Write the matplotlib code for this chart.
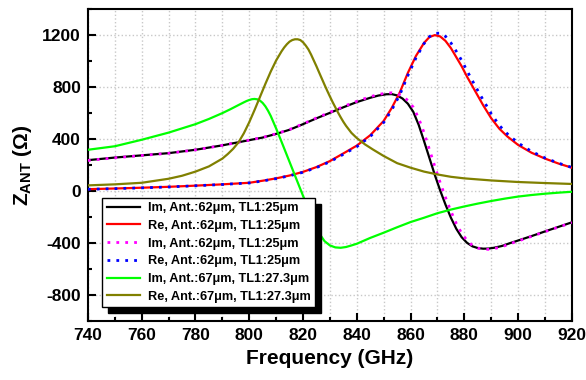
#!/usr/bin/env python3

import matplotlib
matplotlib.use('Agg')
import matplotlib.pyplot as plt
from matplotlib.patches import Rectangle
from matplotlib.ticker import MultipleLocator

# values (frequency in GHz, impedance in ohm)
f_62 = [740, 750, 760, 770, 780, 790, 800, 805, 810, 815, 820, 825, 830, 835,
        840, 845, 850, 853, 856, 859, 862, 865, 867, 869, 871, 873, 875, 877,
        879, 881, 884, 887, 890, 893, 896, 900, 905, 910, 915, 920]
re_62 = [15, 20, 26, 33, 42, 52, 64, 80, 98, 120, 148, 185, 231, 290,
         350, 430, 540, 640, 760, 910, 1040, 1140, 1185, 1200, 1190, 1155, 1100, 1030,
         960, 880, 770, 660, 560, 480, 420, 355, 295, 250, 212, 180]
re_62b = [14, 19, 25, 32, 41, 51, 63, 78, 96, 118, 145, 181, 226, 283,
          342, 420, 528, 625, 742, 890, 1025, 1135, 1188, 1214, 1215, 1190, 1140, 1075,
          1005, 925, 810, 700, 595, 505, 440, 370, 305, 255, 215, 182]

f_62i = [740, 750, 760, 770, 780, 790, 800, 805, 810, 815, 820, 825, 830, 835,
         840, 845, 848, 851, 853, 855, 857, 859, 861, 863, 865, 867, 869, 871,
         873, 875, 877, 879, 881, 883, 885, 887, 889, 891, 894, 897, 900, 905, 910, 915, 920]
im_62 = [238, 258, 275, 292, 318, 352, 392, 412, 440, 472, 515, 560, 602, 645,
         685, 718, 735, 745, 746, 736, 712, 672, 610, 510, 385, 255, 125, 5,
         -105, -205, -290, -355, -398, -425, -438, -443, -442, -436, -422, -400, -380,
         -346, -310, -275, -240]
im_62b = [236, 256, 274, 291, 317, 352, 392, 413, 441, 474, 517, 563, 606, 650,
          691, 726, 743, 754, 756, 749, 730, 697, 645, 560, 450, 320, 190, 65,
          -50, -155, -250, -325, -380, -418, -438, -447, -448, -443, -428, -405, -384,
          -348, -312, -277, -242]

f_67i = [740, 750, 760, 770, 780, 785, 790, 793, 796, 798, 799, 800, 801, 802,
         803, 804, 805, 806, 807, 808, 810, 812, 814, 816, 818, 820, 822, 824,
         826, 828, 830, 832, 834, 836, 838, 840, 845, 850, 855, 860, 865, 870,
         875, 880, 885, 890, 895, 900, 905, 910, 915, 920]
im_67 = [318, 345, 395, 450, 515, 555, 600, 630, 662, 683, 693, 701, 707, 709,
         706, 696, 678, 652, 618, 578, 482, 380, 276, 172, 68, -36, -140, -240,
         -325, -385, -418, -433, -436, -430, -418, -405, -360, -320, -278, -238, -205, -170,
         -142, -118, -96, -76, -58, -42, -30, -20, -12, -5]

f_67r = [740, 750, 760, 770, 775, 780, 785, 790, 792, 794, 796, 798, 800, 802,
         804, 806, 808, 810, 812, 813, 814, 815, 816, 817, 818, 819, 820, 821,
         822, 823, 824, 825, 826, 827, 828, 829, 830, 831, 832, 833, 834, 835,
         836, 838, 840, 843, 846, 850, 855, 860, 865, 870, 875, 880, 890, 900, 910, 920]
re_67 = [44, 52, 64, 95, 118, 150, 190, 250, 285, 325, 375, 445, 530, 625,
         725, 825, 920, 1005, 1075, 1105, 1130, 1150, 1162, 1168, 1168, 1162, 1145, 1120,
         1090, 1050, 1005, 960, 912, 865, 818, 772, 728, 685, 645, 605, 568, 533,
         502, 448, 408, 360, 320, 270, 215, 180, 150, 128, 110, 98, 82, 70, 62, 55]

plt.rcParams['font.family'] = ['Liberation Sans', 'DejaVu Sans']
plt.rcParams['font.weight'] = 'bold'
plt.rcParams['axes.unicode_minus'] = False
plt.rcParams['mathtext.fontset'] = 'custom'
plt.rcParams['mathtext.rm'] = 'Liberation Sans:bold'
plt.rcParams['mathtext.bf'] = 'Liberation Sans:bold'

fig = plt.figure(figsize=(5.86, 3.8), dpi=100)
ax = fig.add_axes([0.150, 0.155, 0.826, 0.821])

dots = (0, (1, 2.2))
ax.plot(f_62i, im_62, color='black', lw=1.6, label='Im, Ant.:62μm, TL1:25μm', zorder=3)
ax.plot(f_62, re_62, color='red', lw=1.6, label='Re, Ant.:62μm, TL1:25μm', zorder=3)
ax.plot(f_62i, im_62b, color='#ff00ff', lw=2, ls=dots, label='Im, Ant.:62μm, TL1:25μm', zorder=3)
ax.plot(f_62, re_62b, color='blue', lw=2, ls=dots, label='Re, Ant.:62μm, TL1:25μm', zorder=3)
ax.plot(f_67i, im_67, color='#00ff00', lw=1.6, label='Im, Ant.:67μm, TL1:27.3μm', zorder=3)
ax.plot(f_67r, re_67, color='#808000', lw=1.6, label='Re, Ant.:67μm, TL1:27.3μm', zorder=3)

ax.set_xlim(740, 920)
ax.set_ylim(-1000, 1400)
ax.xaxis.set_major_locator(MultipleLocator(20))
ax.xaxis.set_minor_locator(MultipleLocator(10))
ax.yaxis.set_major_locator(MultipleLocator(400))
ax.yaxis.set_minor_locator(MultipleLocator(200))
ax.grid(True, which='both', axis='x', color='#c8c8c8', ls=':', lw=1)
ax.grid(True, which='major', axis='y', color='#c8c8c8', ls=':', lw=1)
ax.set_axisbelow(True)

ax.tick_params(which='major', direction='in', length=6, width=1.5, labelsize=12.5, pad=5)
ax.tick_params(which='minor', direction='in', length=3, width=1.5)
for s in ax.spines.values():
    s.set_linewidth(1.5)

ax.set_xlabel('Frequency (GHz)', fontsize=15, fontweight='bold', labelpad=4)
ax.set_ylabel(r'$\mathbf{Z}_{\mathbf{ANT}}$ (Ω)', fontsize=15, fontweight='bold', labelpad=6)

leg = ax.legend(loc='upper left', bbox_to_anchor=(0.030, 0.396), borderaxespad=0,
                fontsize=9.2, fancybox=False, framealpha=1, edgecolor='black',
                handlelength=2.6, handletextpad=0.6, labelspacing=0.45,
                borderpad=0.35)
leg.get_frame().set_linewidth(1)
leg.set_zorder(6)

# solid black drop shadow like the original
fig.canvas.draw()
bb = leg.get_window_extent().transformed(ax.transAxes.inverted())
dx, dy = 6 / (0.826 * 586), 6 / (0.821 * 380)
ax.add_patch(Rectangle((bb.x0 + dx, bb.y0 - dy), bb.width, bb.height,
                       transform=ax.transAxes, color='black', zorder=5.5, clip_on=False))

plt.savefig('out.png', dpi=100)
